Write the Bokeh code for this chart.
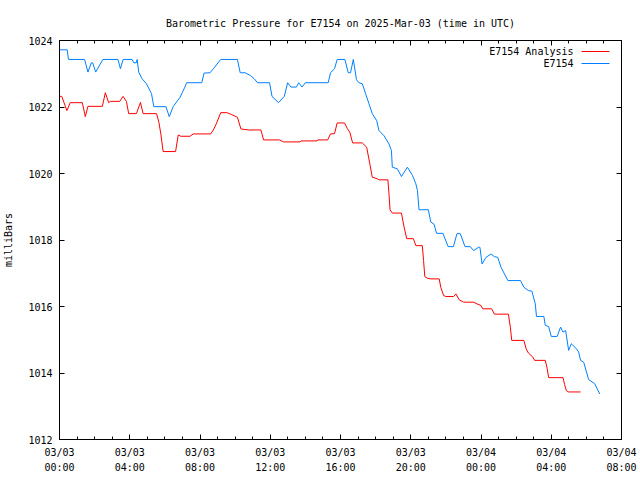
from bokeh.plotting import figure
from bokeh.models import Range1d, FixedTicker, LinearAxis, Label, Arrow
from bokeh.embed import file_html
from bokeh.resources import INLINE

# ---------------- data (hours since 2025-03-03 00:00 UTC, milliBars) ----------------
title_text = "Barometric Pressure for E7154 on 2025-Mar-03 (time in UTC)"
series_names = ["E7154 Analysis", "E7154"]

x_ticks = [0, 4, 8, 12, 16, 20, 24, 28, 32]
x_tick_labels = ["03/03\n00:00", "03/03\n04:00", "03/03\n08:00", "03/03\n12:00",
                 "03/03\n16:00", "03/03\n20:00", "03/04\n00:00", "03/04\n04:00",
                 "03/04\n08:00"]
y_ticks = [1012, 1014, 1016, 1018, 1020, 1022, 1024]

obs_t = [0.00, 0.44, 0.51, 1.43, 1.62, 1.81, 1.89, 2.06, 2.47, 3.33,
         3.47, 3.62, 4.13, 4.23, 4.37, 4.42, 4.51, 4.70, 4.95, 5.24,
         5.37, 6.06, 6.25, 6.47, 6.86, 7.14, 7.24, 8.10, 8.23, 8.57,
         8.76, 9.18, 10.13, 10.29, 10.57, 10.86, 11.09, 11.27, 11.96, 12.10,
         12.47, 12.80, 12.99, 13.18, 13.49, 13.62, 13.81, 14.00, 15.30, 15.43,
         15.66, 15.81, 16.25, 16.44, 16.57, 16.73, 16.91, 17.05, 17.24, 17.43,
         17.62, 17.81, 18.06, 18.19, 18.47, 18.76, 18.90, 18.95, 19.24, 19.47,
         19.81, 20.10, 20.29, 20.38, 20.47, 21.00, 21.14, 21.33, 21.47, 21.83,
         22.13, 22.43, 22.63, 22.82, 23.09, 23.39, 23.58, 23.85, 23.94, 24.06,
         24.29, 24.57, 24.76, 24.95, 25.14, 25.53, 26.25, 26.44, 26.70, 26.90,
         27.09, 27.16, 27.58, 27.66, 27.85, 28.00, 28.34, 28.53, 28.67, 28.82,
         28.99, 29.14, 29.43, 29.56, 29.67, 29.85, 30.13, 30.47, 30.76]
obs_p = [1023.72, 1023.72, 1023.43, 1023.43, 1023.05, 1023.33, 1023.33, 1023.05, 1023.43, 1023.43,
         1023.15, 1023.43, 1023.43, 1023.33, 1023.33, 1023.43, 1023.05, 1022.85, 1022.70, 1022.40,
         1022.01, 1022.01, 1021.71, 1022.01, 1022.29, 1022.60, 1022.73, 1022.73, 1023.02, 1023.03,
         1023.15, 1023.43, 1023.43, 1023.03, 1023.03, 1022.95, 1022.85, 1022.73, 1022.73, 1022.32,
         1022.13, 1022.32, 1022.73, 1022.60, 1022.60, 1022.73, 1022.60, 1022.73, 1022.73, 1023.03,
         1023.15, 1023.43, 1023.43, 1023.03, 1023.03, 1023.43, 1022.82, 1022.73, 1022.70, 1022.40,
         1022.10, 1021.80, 1021.59, 1021.29, 1021.14, 1020.89, 1020.69, 1020.19, 1020.14, 1019.91,
         1020.19, 1019.94, 1019.69, 1019.49, 1018.91, 1018.91, 1018.54, 1018.47, 1018.20, 1018.20,
         1017.80, 1017.80, 1018.19, 1018.19, 1017.80, 1017.80, 1017.68, 1017.78, 1017.78, 1017.28,
         1017.48, 1017.58, 1017.50, 1017.48, 1017.18, 1016.78, 1016.78, 1016.58, 1016.48, 1016.46,
         1016.08, 1015.70, 1015.70, 1015.43, 1015.40, 1015.10, 1015.10, 1015.38, 1015.23, 1015.28,
         1014.68, 1014.88, 1014.73, 1014.63, 1014.38, 1014.32, 1013.80, 1013.68, 1013.37]

ana_t = [0.00, 0.13, 0.42, 0.61, 1.30, 1.47, 1.62, 2.44, 2.61, 2.80,
         2.91, 3.43, 3.62, 3.81, 3.94, 4.38, 4.61, 4.76, 5.53, 5.66,
         5.77, 5.90, 6.61, 6.76, 6.91, 7.43, 7.62, 8.61, 8.76, 8.95,
         9.18, 9.53, 9.81, 10.13, 10.33, 10.76, 11.47, 11.62, 12.53, 12.76,
         13.71, 13.75, 14.67, 14.70, 15.27, 15.43, 15.66, 15.81, 16.23, 16.38,
         16.53, 16.69, 17.24, 17.49, 17.67, 17.81, 18.10, 18.19, 18.70, 18.76,
         18.82, 18.95, 19.47, 19.62, 19.77, 20.15, 20.29, 20.66, 20.73, 20.80,
         20.95, 21.14, 21.62, 21.71, 21.87, 22.00, 22.44, 22.57, 22.76, 23.01,
         23.58, 23.77, 24.00, 24.10, 24.61, 24.76, 25.56, 25.67, 25.75, 26.44,
         26.57, 26.70, 26.95, 27.05, 27.66, 27.77, 27.85, 28.67, 28.76, 28.86,
         28.99, 29.67]
ana_p = [1022.32, 1022.32, 1021.89, 1022.13, 1022.13, 1021.71, 1022.02, 1022.02, 1022.43, 1022.13,
         1022.17, 1022.17, 1022.32, 1022.17, 1021.80, 1021.80, 1022.14, 1021.80, 1021.80, 1021.54,
         1021.19, 1020.66, 1020.66, 1021.16, 1021.12, 1021.12, 1021.19, 1021.19, 1021.31, 1021.52,
         1021.83, 1021.83, 1021.77, 1021.69, 1021.34, 1021.31, 1021.31, 1021.01, 1021.01, 1020.95,
         1020.95, 1020.98, 1020.98, 1021.01, 1021.01, 1021.19, 1021.20, 1021.52, 1021.52, 1021.36,
         1021.24, 1020.92, 1020.92, 1020.79, 1020.29, 1019.89, 1019.84, 1019.81, 1019.81, 1019.39,
         1018.91, 1018.81, 1018.81, 1018.39, 1018.04, 1018.04, 1017.83, 1017.83, 1017.38, 1016.90,
         1016.85, 1016.83, 1016.83, 1016.58, 1016.33, 1016.30, 1016.30, 1016.38, 1016.20, 1016.13,
         1016.13, 1016.08, 1016.03, 1015.93, 1015.93, 1015.77, 1015.77, 1015.38, 1014.98, 1014.98,
         1014.73, 1014.60, 1014.48, 1014.38, 1014.38, 1014.13, 1013.86, 1013.86, 1013.65, 1013.47,
         1013.43, 1013.43]

assert len(obs_t) == len(obs_p) and len(ana_t) == len(ana_p)

# ---------------- styling ----------------
FONT = "DejaVu Sans Mono"
FS = "10px"
RED = "#ff0000"
BLUE = "#0080ff"

p = figure(width=640, height=480, output_backend="svg", toolbar_location=None,
           x_range=Range1d(x_ticks[0], x_ticks[-1]), y_range=Range1d(y_ticks[0], y_ticks[-1]),
           min_border_left=59, min_border_right=19, min_border_top=40, min_border_bottom=41)

p.background_fill_color = "white"
p.border_fill_color = "white"
p.outline_line_color = "black"
p.outline_line_width = 1
p.outline_line_alpha = 1.0
p.grid.visible = False

p.title.text = title_text
p.title.align = "center"
p.title.text_font = FONT
p.title.text_font_size = FS
p.title.text_font_style = "normal"
p.title.text_color = "black"
try:
    p.title.standoff = 23
except Exception:
    pass

xt = FixedTicker(ticks=x_ticks, minor_ticks=list(range(x_ticks[0], x_ticks[-1] + 1)))
yt = FixedTicker(ticks=y_ticks, minor_ticks=[])


def style_axis(ax):
    ax.axis_line_color = "black"
    ax.major_tick_in = 5
    ax.major_tick_out = 0
    ax.minor_tick_in = 3
    ax.minor_tick_out = 0
    ax.major_tick_line_color = "black"
    ax.minor_tick_line_color = "black"
    ax.major_label_text_font = FONT
    ax.major_label_text_font_size = FS
    ax.major_label_text_color = "black"


xa = p.xaxis[0]
xa.ticker = xt
xa.major_label_overrides = {t: lbl for t, lbl in zip(x_ticks, x_tick_labels)}
style_axis(xa)
xa.major_label_standoff = 7
xa.major_label_text_line_height = 1.4

ya = p.yaxis[0]
ya.ticker = yt
style_axis(ya)
ya.major_label_standoff = 7
ya.axis_label = "milliBars"
ya.axis_label_text_font = FONT
ya.axis_label_text_font_size = FS
ya.axis_label_text_font_style = "normal"
ya.axis_label_text_color = "black"
ya.axis_label_standoff = 11

# mirrored tick marks on the top and right edges, without labels
top = LinearAxis(ticker=xt)
style_axis(top)
top.major_label_text_font_size = "0px"
top.major_label_text_color = None
top.major_label_standoff = 0
p.add_layout(top, "above")

right = LinearAxis(ticker=yt)
style_axis(right)
right.major_label_text_font_size = "0px"
right.major_label_text_color = None
right.major_label_standoff = 0
p.add_layout(right, "right")

p.line(ana_t, ana_p, line_color=RED, line_width=1)
p.line(obs_t, obs_p, line_color=BLUE, line_width=1)

# legend (gnuplot style: text then sample line), screen units relative to frame
for i, (name, col) in enumerate(zip(series_names, [RED, BLUE])):
    yy = 388 - 12 * i
    p.add_layout(Label(x=514, y=yy, x_units="screen", y_units="screen", text=name,
                       text_font=FONT, text_font_size=FS, text_align="right",
                       text_baseline="middle", text_color="black"))
    p.add_layout(Arrow(x_start=522, y_start=yy, x_end=550, y_end=yy,
                       start_units="screen", end_units="screen", end=None,
                       line_color=col, line_width=1))

open("out.html", "w").write(file_html(p, INLINE))
